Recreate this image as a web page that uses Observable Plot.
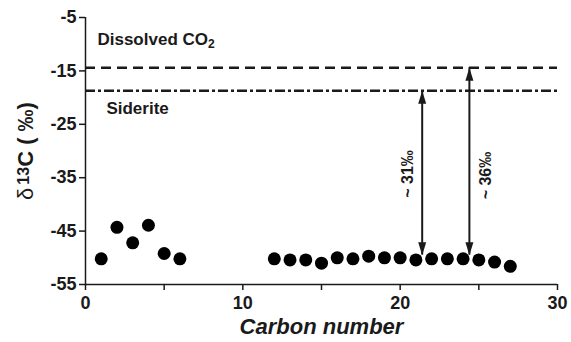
<!DOCTYPE html>
<html><head><meta charset="utf-8">
<script src="https://cdn.jsdelivr.net/npm/d3@7"></script>
<script src="https://cdn.jsdelivr.net/npm/@observablehq/plot@0.6"></script>
<style>body{margin:0;background:#fff} #chart{width:571px;height:342px}</style>
</head><body><div id="chart"></div>
<script>
const carbon = [1,2,3,4,5,6,12,13,14,15,16,17,18,19,20,21,22,23,24,25,26,27];
const delta13C = [-50.2,-44.3,-47.2,-43.9,-49.2,-50.2,-50.2,-50.4,-50.4,-51.0,-50.0,-50.2,-49.7,-50.0,-50.0,-50.4,-50.2,-50.2,-50.2,-50.4,-50.8,-51.6];
const refNames = ["Dissolved CO2", "Siderite"];
const refValues = [-14.4, -18.7];
const refLabelX = [0.76, 1.33];
const refLabelY = [-9.1, -22.0];
const arrowX = [21.4, 24.4];
const arrowTop = [-18.7, -14.4];
const arrowBottom = [-49.5, -49.5];
const arrowLabels = ["~ 31‰", "~ 36‰"];
const arrowLabelY = [-34.3, -34.6];
const xTicks = [0, 5, 10, 15, 20, 25, 30];
const xLabelTicks = [0, 10, 20, 30];
const yTicks = [-55, -45, -35, -25, -15, -5];
const xTitle = "Carbon number";
const yTitle = "δ13C ( ‰)";

const points = carbon.map((c, i) => ({c, d: delta13C[i]}));
const arrows = arrowX.map((x, i) => ({x, top: arrowTop[i], bottom: arrowBottom[i], label: arrowLabels[i], ly: arrowLabelY[i]}));
const refs = refNames.map((n, i) => ({n, v: refValues[i], lx: refLabelX[i], ly: refLabelY[i]}));

const upHead = {draw(ctx) { ctx.moveTo(0, 0); ctx.lineTo(-4, 13); ctx.lineTo(4, 13); ctx.closePath(); }};
const downHead = {draw(ctx) { ctx.moveTo(0, 0); ctx.lineTo(-4, -13); ctx.lineTo(4, -13); ctx.closePath(); }};

const ink = "#1a1a1a";
const chart = Plot.plot({
  width: 571, height: 342,
  marginLeft: 85, marginRight: 14, marginTop: 17, marginBottom: 58,
  style: {fontFamily: "'Liberation Sans', Arial, sans-serif", fontWeight: "bold", color: ink, background: "#fff"},
  x: {domain: [0, 30], label: null},
  y: {domain: [-55, -5], label: null},
  marks: [
    Plot.ruleY([refValues[0]], {stroke: ink, strokeWidth: 2.5, strokeDasharray: "10,6"}),
    Plot.ruleY([refValues[1]], {stroke: ink, strokeWidth: 2.5, strokeDasharray: "10,3,3,3"}),
    Plot.ruleX(arrows, {x: "x", y1: "top", y2: "bottom", stroke: ink, strokeWidth: 2}),
    Plot.dot(arrows, {x: "x", y: "top", symbol: upHead, fill: ink, stroke: "none"}),
    Plot.dot(arrows, {x: "x", y: "bottom", symbol: downHead, fill: ink, stroke: "none"}),
    Plot.text([arrows[0]], {x: "x", y: "ly", text: "label", rotate: -90, dx: -14, fontSize: 16, fontWeight: "bold", fill: ink}),
    Plot.text([arrows[1]], {x: "x", y: "ly", text: "label", rotate: -90, dx: 16, fontSize: 16, fontWeight: "bold", fill: ink}),
    Plot.text(refs, {x: "lx", y: "ly", text: "n", textAnchor: "start", fontSize: 17, fontWeight: "bold", fill: ink}),
    Plot.dot(points, {x: "c", y: "d", r: 6.5, fill: "#000", stroke: "none"}),
    Plot.ruleX([0], {stroke: ink, strokeWidth: 1.5}),
    Plot.ruleY([-55], {stroke: ink, strokeWidth: 1.5}),
    Plot.axisX({ticks: xTicks, tickSize: 6, tickPadding: 6, tickFormat: d => xLabelTicks.includes(d) ? String(d) : "", fontSize: 18, fontWeight: "bold", stroke: ink, strokeWidth: 1.5, label: null}),
    Plot.axisY({ticks: yTicks, tickSize: 6, tickPadding: 3, tickFormat: d => String(d), fontSize: 18, fontWeight: "bold", stroke: ink, strokeWidth: 1.5, label: null}),
    Plot.text([xTitle], {frameAnchor: "bottom", dy: 49, fontSize: 22, fontStyle: "italic", fontWeight: "bold", fill: ink}),
    Plot.text([yTitle], {frameAnchor: "left", textAnchor: "middle", dx: -60, dy: 0, rotate: -90, fontSize: 22, fontWeight: "bold", fill: ink})
  ]
});
d3.select(chart).selectAll("text").each(function() {
  const t = d3.select(this);
  if (this.textContent === "Dissolved CO2") {
    t.text("Dissolved CO");
    t.append("tspan").attr("dy", "0.3em").attr("font-size", "12").text("2");
  } else if (this.textContent === yTitle) {
    t.text(null);
    t.append("tspan").attr("font-weight", "normal").text("δ");
    t.append("tspan").attr("font-size", "16").attr("dx", "3").attr("dy", "-4").text("13");
    t.append("tspan").attr("dy", "4").text("C ( ‰)");
  }
});
document.getElementById("chart").appendChild(chart);
</script>
</body></html>
